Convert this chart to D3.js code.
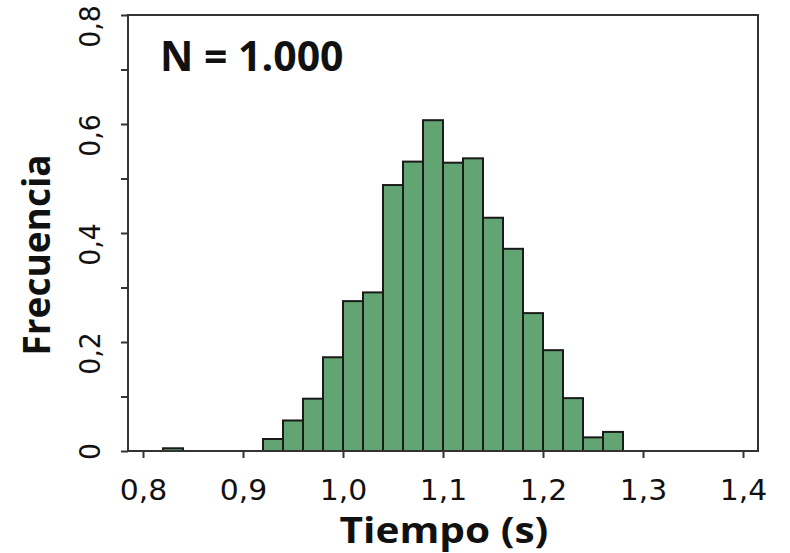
<!DOCTYPE html>
<html>
<head>
<meta charset="utf-8">
<script src="https://cdn.jsdelivr.net/npm/d3@7"></script>
<style>
  body { margin: 0; background: #fff; }
  svg { display: block; }
</style>
</head>
<body>
<svg id="chart" width="790" height="553"></svg>
<script>
// datos del histograma (inicio de cada clase, ancho 0,02 s)
const binStarts = [0.82, 0.92, 0.94, 0.96, 0.98, 1.00, 1.02, 1.04, 1.06, 1.08,
                   1.10, 1.12, 1.14, 1.16, 1.18, 1.20, 1.22, 1.24, 1.26];
const frequencies = [0.005, 0.022, 0.056, 0.096, 0.172, 0.275, 0.291, 0.488, 0.531, 0.607,
                     0.529, 0.537, 0.428, 0.371, 0.253, 0.185, 0.097, 0.025, 0.035];
const binWidth = 0.02;
const xTicks = [0.8, 0.9, 1.0, 1.1, 1.2, 1.3, 1.4];
const yTicks = [0, 0.1, 0.2, 0.3, 0.4, 0.5, 0.6, 0.7, 0.8];
const labelX = "Tiempo (s)";
const labelY = "Frecuencia";
const note = "N = 1.000";

const svg = d3.select("#chart");
const plotLeft = 128, plotRight = 758, plotTop = 15, plotBottom = 451;

const x = d3.scaleLinear().domain([0.785, 1.415]).range([plotLeft, plotRight]);
const y = d3.scaleLinear().domain([0, 0.8]).range([plotBottom, plotTop]);

const fmt = d => d === 0 ? "0" : d3.format(".1f")(d).replace(".", ",");

// barras
svg.append("g")
    .selectAll("rect")
    .data(binStarts.map((b, i) => ({ start: b, value: frequencies[i] })))
    .enter().append("rect")
    .attr("x", d => x(d.start))
    .attr("width", d => x(d.start + binWidth) - x(d.start))
    .attr("y", d => y(d.value))
    .attr("height", d => y(0) - y(d.value))
    .attr("fill", "#63a572")
    .attr("stroke", "#1a1a1a")
    .attr("stroke-width", 2);

// marco
svg.append("rect")
    .attr("x", plotLeft).attr("y", plotTop)
    .attr("width", plotRight - plotLeft).attr("height", plotBottom - plotTop)
    .attr("fill", "none")
    .attr("stroke", "#333")
    .attr("stroke-width", 2);

// eje x
const gx = svg.append("g")
    .attr("transform", `translate(0,${plotBottom})`)
    .call(d3.axisBottom(x).tickValues(xTicks).tickSize(7).tickFormat(fmt));
gx.select(".domain").remove();
gx.selectAll(".tick line").attr("stroke", "#333").attr("stroke-width", 2);
gx.selectAll(".tick text")
    .attr("y", 49).attr("dy", 0)
    .attr("transform", "scale(1.03,1)")
    .attr("fill", "#111")
    .style("font-family", "DejaVu Sans")
    .style("font-size", "29px");

// eje y (etiquetas giradas, solo cada 0,2)
const gy = svg.append("g")
    .attr("transform", `translate(${plotLeft},0)`)
    .call(d3.axisLeft(y).tickValues(yTicks).tickSize(7)
        .tickFormat(d => Math.round(d * 10) % 2 === 0 ? fmt(d) : ""));
gy.select(".domain").remove();
gy.selectAll(".tick line").attr("stroke", "#333").attr("stroke-width", 2);
gy.selectAll(".tick text")
    .attr("transform", d => `rotate(-90) translate(${d === 0 ? 0 : -11},0) scale(0.92,1)`)
    .attr("x", 0).attr("y", -28).attr("dy", 0)
    .attr("text-anchor", "middle")
    .attr("fill", "#111")
    .style("font-family", "DejaVu Sans")
    .style("font-size", "29px");

// títulos
svg.append("text")
    .attr("transform", "translate(50,255) rotate(-90)")
    .attr("text-anchor", "middle")
    .style("font-family", "Open Sans")
    .style("font-weight", "bold")
    .style("font-size", "37px")
    .attr("fill", "#111")
    .text(labelY);

svg.append("text")
    .attr("transform", "translate(444,543) scale(1.16,1)")
    .attr("text-anchor", "middle")
    .style("font-family", "Open Sans")
    .style("font-weight", "bold")
    .style("font-size", "35px")
    .attr("fill", "#111")
    .text(labelX);

svg.append("text")
    .attr("x", 160).attr("y", 71)
    .style("font-family", "Open Sans")
    .style("font-weight", "bold")
    .style("font-size", "41px")
    .attr("fill", "#111")
    .text(note);
</script>
</body>
</html>
